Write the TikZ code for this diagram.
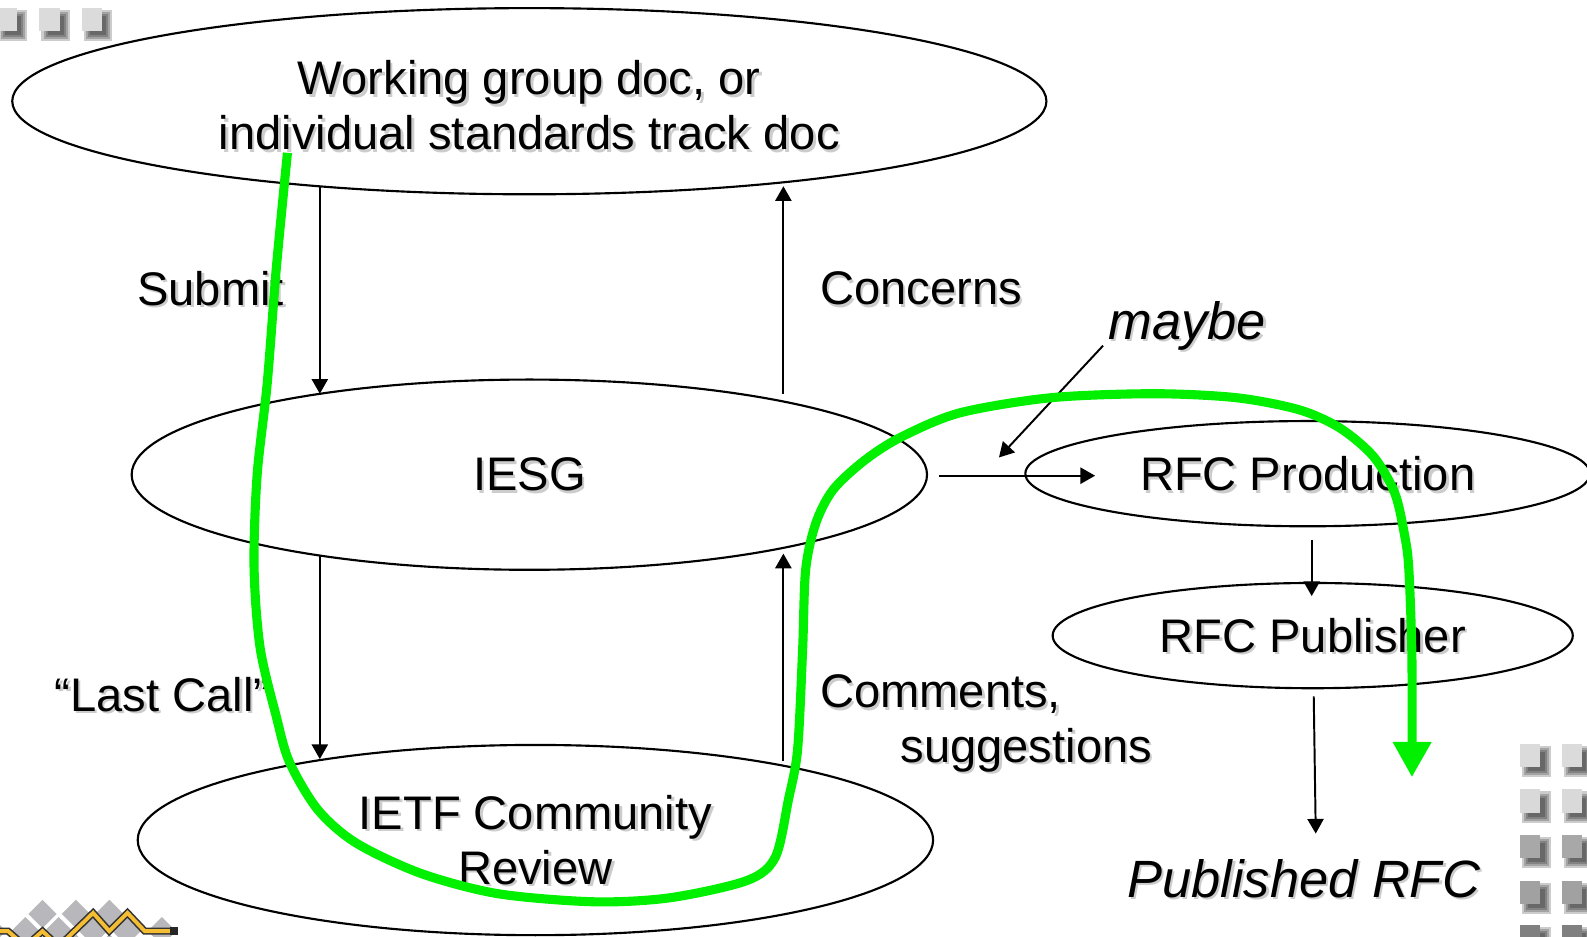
\documentclass[tikz,border=0pt]{standalone}
\usepackage{fontspec}
\setmainfont{Liberation Sans}
\usetikzlibrary{calc,shapes.geometric,arrows.meta}

\definecolor{hlgreen}{RGB}{0,240,0}
\definecolor{zigyellow}{RGB}{245,190,50}
\definecolor{diamgray}{RGB}{184,184,188}

% text with a soft shadow
\newcommand\shtext[1]{\rlap{\kern1.4pt\raisebox{-1.4pt}[0pt][0pt]{\textcolor{black!20}{#1}}}#1}
% square with a shadow: x, y of top left corner, colour
\newcommand\shsq[3]{%
  \foreach \e in {0,1,2,3}
    \fill[black, opacity=.2] (#1+2+2*\e,#2+2+2*\e) rectangle (#1+30-2*\e,#2+33-2*\e);
  \fill[#3] (#1,#2) rectangle (#1+20,#2+23);}

\tikzset{
  bubble/.style={draw, ellipse, line width=1.2pt, inner sep=0pt, align=center,
    font=\fontsize{26.5}{31}\selectfont},
  lbl/.style={inner sep=0pt, font=\fontsize{26.5}{31}\selectfont},
  itlbl/.style={inner sep=0pt, font=\fontsize{29.5}{34}\selectfont\itshape},
  arr/.style={line width=1.1pt, -{Triangle[length=0.29cm,width=0.32cm]}},
  flow/.style={draw=hlgreen, line width=0.18cm, line join=round,
    -{Triangle[length=0.7cm,width=0.72cm]}},
}

\begin{document}
\begin{tikzpicture}[x=0.02cm, y=-0.02cm]
    \useasboundingbox (0,0) rectangle (1568,925);

    \node[bubble, minimum width=20.44cm, minimum height=3.68cm] (wg) at (523,100)
        {\rule{0pt}{24pt}\shtext{Working group doc, or}\\\shtext{individual standards track doc}};
    \node[bubble, minimum width=15.72cm, minimum height=3.76cm] (iesg) at (523,469)
        {\shtext{IESG}};
    \node[bubble, minimum width=15.72cm, minimum height=3.76cm] (ietf) at (529,830)
        {\shtext{IETF Community}\\\shtext{Review}};
    \node[bubble, minimum width=11.16cm, minimum height=2.08cm] (prod) at (1292,468)
        {\shtext{RFC Production}};
    \node[bubble, minimum width=10.28cm, minimum height=2.08cm] (pub) at (1297,628)
        {\shtext{RFC Publisher}};
    \node[itlbl] (rfc) at (1288,868) {\shtext{Published RFC}};

    \node[lbl] (submit) at (208,285) {\shtext{Submit}};
    \node[lbl] (concerns) at (910,285) {\shtext{Concerns}};
    \node[lbl] (lastcall) at (160,686) {\shtext{“Last Call”}};
    \node[lbl, anchor=west] (comments) at (810,686) {\shtext{Comments,}};
    \node[lbl] (sugg) at (1014,741) {\shtext{suggestions}};
    \node[itlbl] (maybe) at (1173,322) {\shtext{maybe}};
    \coordinate (maybeend) at (987,452);

    \draw[arr] ($(wg.center)+(-207,84)$) -- ($(iesg.center)+(-207,-80)$);
    \draw[arr] ($(iesg.center)+(251,-80)$) -- ($(wg.center)+(251,84)$);
    \draw[arr] ($(iesg.center)+(-207,80)$) -- ($(ietf.center)+(-213,-80)$);
    \draw[arr] ($(ietf.center)+(245,-78)$) -- ($(iesg.center)+(251,78)$);
    \draw[arr] ($(iesg.east)+(11,1)$) -- ($(prod.west)+(70,2)$);
    \draw[arr] ($(prod.south)+(4,12)$) -- ($(pub.north)+(-1,14)$);
    \draw[arr] ($(pub.south)+(1,7)$) -- ($(rfc.north)+(12,-25)$);
    \draw[arr] ($(maybe.south west)+(-5,-5)$) -- (maybeend);

    % the path of a document
    \draw[flow] plot[smooth, tension=.5] coordinates {
        (284,151) (273,265) (264,379) (254,470) (251,560) (257,640)
        (273,708) (286,753) (314,800) (352,833) (416,863) (492,883)
        (587,891) (662,887) (738,870) (766,847) (779,790) (788,741)
        (793,642) (796,563) (806,517) (823,484) (854,455) (890,432)
        (948,408) (1038,393) (1140,389) (1222,393) (1284,405) (1324,423)
        (1357,451) (1378,487) (1388,530) (1392,563) (1395,650) (1395,768)};

    % slide decorations
    \foreach \x in {-3,39,81} \shsq{\x}{8}{black!14};
    \foreach \y/\c in {735/14,780/15,825/34,870/37,914/50} {
        \shsq{1502}{\y}{black!\c}
        \shsq{1543}{\y}{black!\c}
    }
    \foreach \x/\y in {42/903,75/903,108/903,-8/920,25/920,58/920,92/920,
                       125/920,160/920,75/937,108/937}
        \fill[diamgray] (\x,\y-14) -- (\x+14,\y) -- (\x,\y+14) -- (\x-14,\y) -- cycle;
    \draw[black!80, line width=4pt, line join=miter]
        (0,920) -- (8,920) -- (25,935) -- (42,920) -- (58,935) -- (92,902)
        -- (108,920) -- (126,902) -- (143,920) -- (171,920);
    \draw[zigyellow, line width=2.2pt, line join=miter]
        (0,920) -- (8,920) -- (25,935) -- (42,920) -- (58,935) -- (92,902)
        -- (108,920) -- (126,902) -- (143,920) -- (171,920);
    \fill[black!85] (168,916) rectangle (176,924);
\end{tikzpicture}
\end{document}
